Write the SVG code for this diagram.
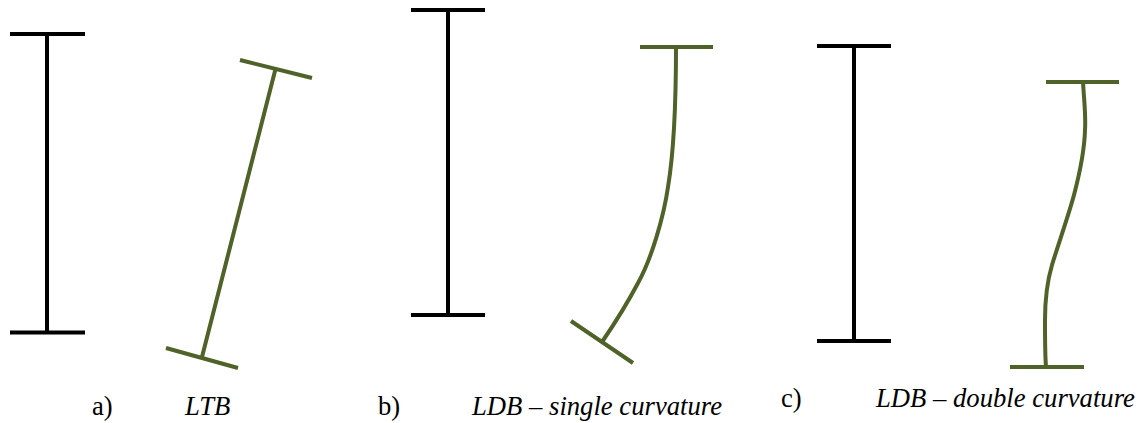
<svg xmlns="http://www.w3.org/2000/svg" width="1142" height="423" viewBox="0 0 1142 423">
<style>
.k{fill:none;stroke:#000;stroke-width:4}
.g{fill:none;stroke:#4f6228;stroke-width:4}
text{font-family:"Liberation Serif","Times New Roman",serif;font-size:26.67px;fill:#000}
.i{font-style:italic}
</style>
<rect width="1142" height="423" fill="#fff"/>
<g id="undeformed-a"><path class="k" d="M10 34H85M47 34V332.500M10 332.500H85"/></g>
<g id="buckled-a"><path class="g" d="M240 60L312 78M275.500 69L202 357M166 348L238 368"/></g>
<g id="undeformed-b"><path class="k" d="M411 10H485M448 10V315M411 315H485"/></g>
<g id="buckled-b"><path class="g" d="M640 47H713M676 47C676 90 675 145 668 187C664 215 652 258 638 283C628 302 615 323 602 342M571 321L633 363"/></g>
<g id="undeformed-c"><path class="k" d="M817 46H891M854 46V341M817 341H891"/></g>
<g id="buckled-c"><path class="g" d="M1046 82H1119M1083 82C1084 100 1086 115 1085 130C1084.500 150 1080 172 1074 195C1068 217 1058 245 1052 265C1047 282 1045 300 1045 320C1045 340 1045 355 1046 367M1010 367H1084"/></g>
<g id="labels">
<text x="92" y="414.500">a)</text>
<text class="i" x="185" y="414.500">LTB</text>
<text x="378" y="414.500">b)</text>
<text class="i" x="472" y="414.500">LDB – single curvature</text>
<text x="781" y="407">c)</text>
<text class="i" x="876" y="407">LDB – double curvature</text>
</g>
</svg>
